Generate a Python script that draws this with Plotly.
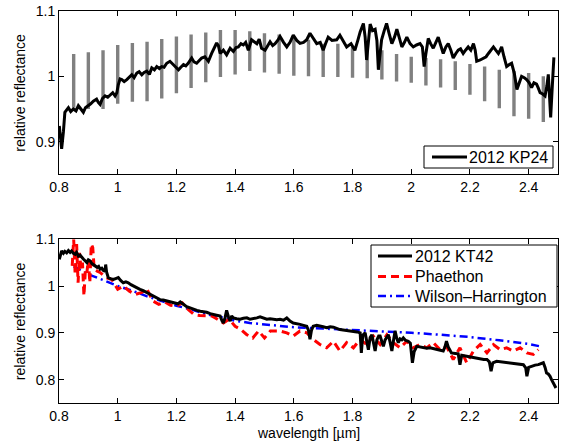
import plotly.graph_objects as go
from plotly.subplots import make_subplots

# ---------------- data ----------------
kp24_wl = [0.801,0.809,0.815,0.820,0.832,0.840,0.849,0.858,0.866,0.875,0.883,0.890,0.900,0.908,0.917,0.928,0.934,0.940,0.948,0.957,
           0.966,0.974,0.983,0.991,0.997,1.002,1.008,1.014,1.022,1.031,1.040,1.048,1.056,1.065,1.073,1.082,1.090,1.099,1.108,1.116,
           1.125,1.133,1.142,1.150,1.158,1.167,1.178,1.187,1.195,1.207,1.215,1.224,1.232,1.240,1.252,1.260,1.269,1.278,1.286,1.297,
           1.309,1.320,1.330,1.337,1.343,1.349,1.360,1.371,1.383,1.394,1.403,1.411,1.420,1.428,1.436,1.445,1.456,1.465,1.474,1.482,
           1.490,1.502,1.511,1.519,1.528,1.536,1.545,1.553,1.565,1.576,1.587,1.598,1.610,1.621,1.633,1.644,1.655,1.667,1.678,1.690,
           1.700,1.708,1.717,1.730,1.746,1.757,1.768,1.780,1.795,1.808,1.818,1.826,1.837,1.843,1.848,1.854,1.860,1.868,1.877,1.883,
           1.888,1.894,1.899,1.908,1.916,1.925,1.934,1.943,1.951,1.960,1.968,1.977,1.985,1.996,2.007,2.018,2.030,2.038,2.044,2.050,
           2.058,2.066,2.075,2.084,2.092,2.100,2.109,2.118,2.126,2.135,2.143,2.152,2.160,2.168,2.177,2.185,2.194,2.203,2.212,2.218,
           2.223,2.235,2.246,2.255,2.263,2.272,2.280,2.288,2.297,2.303,2.308,2.316,2.325,2.334,2.342,2.351,2.360,2.368,2.376,2.385,
           2.393,2.402,2.410,2.418,2.427,2.433,2.439,2.448,2.456,2.462,2.467,2.471,2.475,2.480,2.486]
kp24_r = [0.924,0.889,0.915,0.945,0.952,0.946,0.950,0.947,0.955,0.950,0.945,0.952,0.955,0.958,0.962,0.965,0.960,0.957,0.966,0.970,
          0.968,0.972,0.975,0.970,0.975,0.987,0.996,0.995,0.992,0.995,0.999,1.0025,0.998,1.005,1.007,1.0025,1.006,1.008,1.003,1.013,
          1.010,1.015,1.012,1.015,1.014,1.020,1.023,1.019,1.015,1.010,1.014,1.018,1.016,1.020,1.028,1.022,1.020,1.025,1.028,1.030,
          1.023,1.035,1.044,1.051,1.047,1.035,1.040,1.033,1.043,1.038,1.044,1.045,1.050,1.048,1.052,1.040,1.056,1.053,1.050,1.057,
          1.043,1.040,1.048,1.053,1.047,1.050,1.055,1.061,1.052,1.045,1.052,1.063,1.055,1.0505,1.052,1.056,1.066,1.058,1.050,1.052,
          1.040,1.050,1.060,1.055,1.056,1.063,1.055,1.045,1.050,1.040,1.055,1.068,1.081,1.060,1.025,1.055,1.080,1.070,1.072,1.055,
          1.010,1.035,1.056,1.070,1.081,1.065,1.050,1.060,1.072,1.058,1.045,1.052,1.060,1.050,1.045,1.048,1.050,1.045,1.015,1.035,
          1.058,1.050,1.043,1.052,1.060,1.048,1.035,1.045,1.050,1.040,1.028,1.035,1.040,1.042,1.035,1.040,1.045,1.040,1.050,1.040,
          1.023,1.025,1.028,1.030,1.035,1.040,1.045,1.040,1.035,1.040,1.045,1.030,1.015,1.018,1.020,1.005,0.980,0.990,1.000,0.998,
          0.995,0.990,0.983,0.990,0.988,0.982,0.975,0.973,0.970,0.985,1.003,0.970,0.937,0.980,1.029]

bar_wl = [0.85,0.90,0.95,1.00,1.05,1.10,1.15,1.20,1.25,1.30,1.35,1.40,1.45,1.50,1.55,1.60,1.65,
          1.70,1.75,1.80,1.85,1.90,1.95,2.00,2.05,2.10,2.15,2.20,2.25,2.30,2.35,2.40,2.45]
bar_hi = [1.034,1.037,1.040,1.048,1.051,1.053,1.057,1.061,1.064,1.067,1.071,1.071,1.069,1.066,1.064,1.061,1.056,
          1.050,1.050,1.045,1.043,1.040,1.034,1.030,1.028,1.026,1.023,1.019,1.015,1.010,1.008,1.005,1.000]
bar_lo = [0.952,0.950,0.950,0.958,0.961,0.962,0.966,0.974,0.982,0.991,0.999,1.003,1.008,1.006,1.004,1.001,1.000,
          0.999,0.999,0.998,0.997,0.995,0.992,0.990,0.986,0.983,0.979,0.972,0.962,0.951,0.939,0.935,0.930]

kt42_wl = [0.801,0.805,0.809,0.815,0.820,0.826,0.832,0.838,0.843,0.849,0.855,0.860,0.866,0.872,0.878,0.883,0.889,0.895,0.900,0.906,
           0.912,0.917,0.923,0.930,0.935,0.940,0.946,0.952,0.957,0.959,0.962,0.968,0.975,0.985,0.993,1.002,1.010,1.019,1.028,1.036,
           1.045,1.053,1.064,1.076,1.087,1.099,1.110,1.121,1.132,1.144,1.155,1.167,1.178,1.190,1.205,1.213,1.218,1.226,1.235,1.246,
           1.258,1.270,1.281,1.292,1.303,1.315,1.326,1.337,1.349,1.355,1.360,1.366,1.371,1.377,1.383,1.388,1.394,1.405,1.417,1.428,
           1.440,1.451,1.462,1.474,1.485,1.497,1.508,1.519,1.530,1.542,1.553,1.565,1.576,1.587,1.598,1.610,1.621,1.633,1.644,1.650,
           1.655,1.660,1.666,1.678,1.689,1.700,1.712,1.724,1.735,1.746,1.757,1.768,1.780,1.792,1.803,1.815,1.826,1.830,1.835,1.843,
           1.849,1.854,1.860,1.866,1.871,1.877,1.883,1.889,1.894,1.900,1.905,1.911,1.917,1.922,1.928,1.934,1.940,1.945,1.950,1.956,
           1.962,1.968,1.973,1.980,1.990,1.997,2.004,2.010,2.019,2.030,2.041,2.053,2.064,2.075,2.087,2.098,2.109,2.115,2.120,2.126,
           2.137,2.150,2.160,2.166,2.172,2.180,2.189,2.200,2.212,2.224,2.235,2.247,2.258,2.266,2.272,2.278,2.291,2.303,2.314,2.326,
           2.337,2.348,2.360,2.371,2.382,2.390,2.394,2.400,2.410,2.422,2.433,2.442,2.450,2.456,2.461,2.467,2.473,2.478,2.484,2.490,2.493]
kt42_r = [1.057,1.068,1.075,1.070,1.074,1.071,1.076,1.072,1.075,1.070,1.068,1.072,1.064,1.066,1.060,1.058,1.054,1.050,1.056,1.054,
          1.048,1.046,1.043,1.040,1.042,1.036,1.038,1.033,1.032,1.046,1.030,1.018,1.016,1.014,1.016,1.018,1.012,1.007,1.009,1.007,
          1.003,1.000,0.997,0.993,0.990,0.986,0.983,0.979,0.975,0.971,0.970,0.968,0.966,0.964,0.962,0.966,0.963,0.960,0.956,0.953,
          0.950,0.948,0.946,0.945,0.944,0.941,0.939,0.937,0.936,0.926,0.921,0.933,0.948,0.935,0.925,0.936,0.932,0.930,0.929,0.931,
          0.932,0.929,0.930,0.932,0.934,0.931,0.929,0.930,0.929,0.928,0.929,0.927,0.932,0.925,0.921,0.920,0.918,0.916,0.914,0.905,
          0.886,0.905,0.914,0.916,0.915,0.913,0.911,0.913,0.912,0.909,0.907,0.906,0.905,0.905,0.904,0.902,0.900,0.857,0.895,0.900,
          0.880,0.864,0.890,0.896,0.880,0.861,0.885,0.893,0.893,0.880,0.871,0.885,0.892,0.896,0.880,0.861,0.885,0.904,0.890,0.879,
          0.887,0.885,0.889,0.884,0.882,0.878,0.836,0.860,0.871,0.870,0.868,0.867,0.868,0.866,0.864,0.863,0.861,0.870,0.882,0.870,
          0.857,0.856,0.855,0.832,0.852,0.851,0.850,0.848,0.846,0.845,0.844,0.843,0.843,0.838,0.818,0.836,0.839,0.838,0.837,0.836,
          0.836,0.835,0.834,0.833,0.832,0.825,0.807,0.826,0.829,0.831,0.832,0.834,0.836,0.826,0.814,0.812,0.807,0.800,0.793,0.786,0.782]

pha_wl = [0.845,0.850,0.855,0.860,0.865,0.870,0.875,0.880,0.885,0.890,0.895,0.900,0.905,0.910,0.915,0.920,0.930,0.940,0.960,0.980,
          1.000,1.020,1.040,1.060,1.080,1.100,1.120,1.140,1.160,1.180,1.200,1.220,1.240,1.260,1.280,1.300,1.320,1.340,1.360,1.380,
          1.400,1.420,1.440,1.460,1.480,1.500,1.520,1.553,1.576,1.598,1.621,1.644,1.666,1.689,1.712,1.735,1.757,1.780,1.803,1.826,
          1.848,1.871,1.894,1.917,1.939,1.962,1.985,2.007,2.030,2.053,2.075,2.098,2.120,2.143,2.166,2.189,2.212,2.235,2.258,2.280,
          2.303,2.325,2.348,2.371,2.394,2.416,2.433]
pha_r = [1.043,1.100,1.025,1.090,1.007,1.071,1.036,1.050,0.979,1.036,1.029,1.057,1.007,1.090,1.082,1.036,1.032,1.029,1.018,1.014,
         0.993,1.000,0.989,0.982,0.986,0.993,0.968,0.961,0.966,0.959,0.957,0.964,0.950,0.939,0.937,0.936,0.936,0.929,0.921,0.929,
         0.914,0.907,0.896,0.889,0.904,0.889,0.904,0.904,0.900,0.893,0.904,0.900,0.886,0.875,0.868,0.882,0.861,0.879,0.868,0.886,
         0.875,0.893,0.875,0.896,0.879,0.868,0.882,0.868,0.875,0.868,0.879,0.864,0.871,0.843,0.868,0.836,0.861,0.875,0.857,0.875,
         0.864,0.868,0.861,0.868,0.857,0.854,0.864]

wh_wl = [0.85,0.90,0.95,1.00,1.05,1.10,1.15,1.20,1.25,1.30,1.35,1.40,1.45,1.50,1.60,1.70,1.80,1.90,2.00,2.10,2.20,2.30,2.40,2.44]
wh_r = [1.042,1.025,1.013,1.000,0.990,0.978,0.968,0.958,0.950,0.940,0.934,0.926,0.921,0.918,0.912,0.909,0.906,0.904,0.900,0.896,
        0.891,0.884,0.876,0.871]

x_ticks = [0.8, 1.0, 1.2, 1.4, 1.6, 1.8, 2.0, 2.2, 2.4]
x_ticklabels = ["0.8", "1", "1.2", "1.4", "1.6", "1.8", "2", "2.2", "2.4"]
top_yticks = [0.9, 1.0, 1.1]
top_yticklabels = ["0.9", "1", "1.1"]
bot_yticks = [0.8, 0.9, 1.0, 1.1]
bot_yticklabels = ["0.8", "0.9", "1", "1.1"]

# ---------------- styles ----------------
FONT = "Liberation Sans, Arial, Helvetica, sans-serif"
STY_KP24 = dict(color="black", width=3)
STY_KT42 = dict(color="black", width=3)
STY_PHA = dict(color="#ff0000", width=3, dash="8px,5px")
STY_WH = dict(color="#0000ff", width=2.5, dash="8px,4px,2px,4px")

W, H = 561, 442
ML, MR, MT, MB = 59, 3, 11, 39
PW, PH = W - ML - MR, H - MT - MB


def px(xpix):
    return (xpix - ML) / PW


def py(ypix):
    return (H - MB - ypix) / PH


fig = make_subplots(rows=2, cols=1, vertical_spacing=0.0)

# gray bars (drawn first, black spectrum on top)
bx, by = [], []
for w, lo, hi in zip(bar_wl, bar_lo, bar_hi):
    bx += [w, w, None]
    by += [lo, hi, None]
fig.add_trace(go.Scatter(x=bx, y=by, mode="lines", line=dict(color="#808080", width=3.4),
                         showlegend=False, hoverinfo="skip"), row=1, col=1)
fig.add_trace(go.Scatter(x=kp24_wl, y=kp24_r, mode="lines", name="2012 KP24",
                         line=STY_KP24, showlegend=False), row=1, col=1)

fig.add_trace(go.Scatter(x=wh_wl, y=wh_r, mode="lines", name="Wilson\u2013Harrington",
                         line=STY_WH, showlegend=False), row=2, col=1)
fig.add_trace(go.Scatter(x=pha_wl, y=pha_r, mode="lines", name="Phaethon",
                         line=STY_PHA, showlegend=False), row=2, col=1)
fig.add_trace(go.Scatter(x=kt42_wl, y=kt42_r, mode="lines", name="2012 KT42",
                         line=STY_KT42, showlegend=False), row=2, col=1)

axis_common = dict(showline=True, linecolor="black", linewidth=1, mirror="ticks", ticks="inside",
                   ticklen=5, tickcolor="black", showgrid=False, zeroline=False, automargin=False,
                   tickfont=dict(family=FONT, size=14, color="black"))

top_dom = [0.5833, 1.0]
bot_dom = [0.0, 0.4177]

fig.update_xaxes(range=[0.8, 2.5], tickvals=x_ticks, ticktext=x_ticklabels, **axis_common)
fig.update_yaxes(range=[0.85, 1.1], tickvals=top_yticks, ticktext=top_yticklabels, domain=top_dom,
                 row=1, col=1, **axis_common)
fig.update_yaxes(range=[0.75, 1.1], tickvals=bot_yticks, ticktext=bot_yticklabels, domain=bot_dom,
                 row=2, col=1, **axis_common)

title_font = dict(family=FONT, size=14, color="black")
leg_font = dict(family=FONT, size=16, color="black")
annotations = [
    dict(text="wavelength [\u00b5m]", xref="paper", yref="paper", x=0.5, y=py(433),
         xanchor="center", yanchor="middle", showarrow=False, font=title_font),
    dict(text="relative reflectance", xref="paper", yref="paper", x=px(20), y=sum(top_dom) / 2,
         xanchor="center", yanchor="middle", textangle=-90, showarrow=False, font=title_font),
    dict(text="relative reflectance", xref="paper", yref="paper", x=px(20), y=sum(bot_dom) / 2,
         xanchor="center", yanchor="middle", textangle=-90, showarrow=False, font=title_font),
]
shapes = []

# custom legends (boxes, line samples, labels)
legends = [
    dict(box=(424, 146, 553, 168), x0=432, x1=467, tx=468,
         items=[("2012 KP24", STY_KP24, 157)]),
    dict(box=(371, 245, 557, 307), x0=378, x1=412, tx=414,
         items=[("2012 KT42", STY_KT42, 256), ("Phaethon", STY_PHA, 276.5),
                ("Wilson\u2013Harrington", STY_WH, 296)]),
]
for lg in legends:
    bx0, by0, bx1, by1 = lg["box"]
    shapes.append(dict(type="rect", xref="paper", yref="paper", x0=px(bx0), x1=px(bx1),
                       y0=py(by1), y1=py(by0), line=dict(color="black", width=1),
                       fillcolor="white", layer="above"))
    for label, sty, yy in lg["items"]:
        shapes.append(dict(type="line", xref="paper", yref="paper", x0=px(lg["x0"]), x1=px(lg["x1"]),
                           y0=py(yy), y1=py(yy), line=sty, layer="above"))
        annotations.append(dict(text=label, xref="paper", yref="paper", x=px(lg["tx"]), y=py(yy),
                                xanchor="left", yanchor="middle", showarrow=False, font=leg_font,
                                borderpad=0))

fig.update_layout(
    width=W, height=H,
    margin=dict(l=ML, r=MR, t=MT, b=MB, autoexpand=False),
    paper_bgcolor="white", plot_bgcolor="white",
    font=dict(family=FONT, size=14, color="black"),
    annotations=annotations, shapes=shapes, showlegend=False,
)

fig.write_html("out.html", config={"displayModeBar": False},
               post_script="document.body.style.margin='0';document.body.style.padding='0';")
